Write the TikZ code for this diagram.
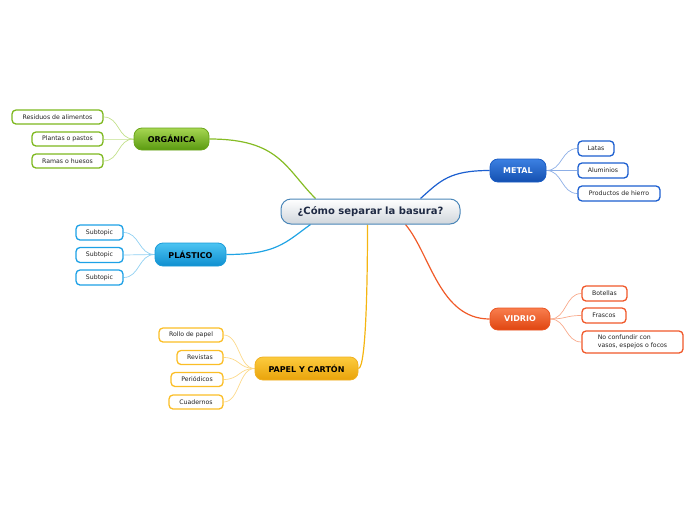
\documentclass[tikz,border=0pt]{standalone}
\usepackage{fontspec}
\setmainfont{DejaVu Sans}
\usetikzlibrary{backgrounds,calc}
\definecolor{gline}{HTML}{86BC25}
\definecolor{gsub}{HTML}{7DB81E}
\definecolor{gthin}{HTML}{C2E08A}
\definecolor{bline}{HTML}{1FA3E4}
\definecolor{bsub}{HTML}{1DA1E6}
\definecolor{bthin}{HTML}{8FD0F2}
\definecolor{yline}{HTML}{F5B511}
\definecolor{ysub}{HTML}{FBBE26}
\definecolor{ythin}{HTML}{FCD98A}
\definecolor{mline}{HTML}{1C5FD0}
\definecolor{msub}{HTML}{1C5FD0}
\definecolor{mthin}{HTML}{8CAEE6}
\definecolor{vline}{HTML}{F05A28}
\definecolor{vsub}{HTML}{F0582A}
\definecolor{vthin}{HTML}{F8AA8C}
\definecolor{ctext}{HTML}{1F2A44}
\definecolor{subtext}{HTML}{222222}
\definecolor{cborder}{HTML}{4A86B8}
\definecolor{cbottom}{HTML}{D0D6DC}
\definecolor{gdraw}{HTML}{6AA51A}
\definecolor{gtop}{HTML}{A6D652}
\definecolor{gbot}{HTML}{5A9A10}
\definecolor{bdraw}{HTML}{1A9AD8}
\definecolor{btop}{HTML}{4CC4F2}
\definecolor{bbot}{HTML}{0F8FD0}
\definecolor{ydraw}{HTML}{F0B020}
\definecolor{ytop}{HTML}{FCCB3E}
\definecolor{ybot}{HTML}{E9A30A}
\definecolor{mdraw}{HTML}{1A5CC4}
\definecolor{mtop}{HTML}{3C80E2}
\definecolor{mbot}{HTML}{1450B0}
\definecolor{vdraw}{HTML}{EA5522}
\definecolor{vtop}{HTML}{F87E4E}
\definecolor{vbot}{HTML}{E04510}
\begin{document}
\begin{tikzpicture}[x=1pt,y=-1pt,
  centerbox/.style={draw=cborder, line width=1pt, rounded corners=10pt,
    top color=white, bottom color=cbottom, minimum width=179pt, minimum height=25pt,
    inner sep=0pt, font=\fontsize{10}{12}\selectfont\bfseries, text=ctext},
  mainbox/.style={line width=0.8pt, rounded corners=8pt, minimum height=23pt,
    inner sep=0pt, font=\fontsize{8}{10}\selectfont\bfseries},
  subbox/.style={draw=#1, line width=1.3pt, fill=white, rounded corners=4pt,
    minimum height=14pt, inner sep=0pt, font=\fontsize{6.2}{7.5}\selectfont, text=subtext},
  branch/.style={draw=#1, line width=1.2pt},
  twig/.style={draw=#1, line width=0.7pt}
]
\useasboundingbox (0,0) rectangle (696,520);
% center
\node[centerbox] (c) at (370.5,211.5) {¿Cómo separar la basura?};
% main topics
\node[mainbox, draw=gdraw, top color=gtop, bottom color=gbot, minimum width=75pt, minimum height=22pt, text=black] (org) at (171.5,139) {ORGÁNICA};
\node[mainbox, draw=bdraw, top color=btop, bottom color=bbot, minimum width=71pt, text=black] (pla) at (190.5,254.5) {PLÁSTICO};
\node[mainbox, draw=ydraw, top color=ytop, bottom color=ybot, minimum width=103pt, text=black] (pap) at (306.5,368.5) {PAPEL Y CARTÓN};
\node[mainbox, draw=mdraw, top color=mtop, bottom color=mbot, minimum width=56pt, text=white] (met) at (518,170.5) {METAL};
\node[mainbox, draw=vdraw, top color=vtop, bottom color=vbot, minimum width=60pt, minimum height=22pt, text=white] (vid) at (520,319) {VIDRIO};
% subtopics
\node[subbox=gsub, minimum width=91pt] (o1) at (57.5,117) {Residuos de alimentos};
\node[subbox=gsub, minimum width=71pt] (o2) at (67.5,139) {Plantas o pastos};
\node[subbox=gsub, minimum width=71pt] (o3) at (67.5,161) {Ramas o huesos};
\node[subbox=bsub, minimum width=47pt, minimum height=15pt] (p1) at (99.5,232.5) {Subtopic};
\node[subbox=bsub, minimum width=47pt, minimum height=15pt] (p2) at (99.5,255) {Subtopic};
\node[subbox=bsub, minimum width=47pt, minimum height=15pt] (p3) at (99.5,277.5) {Subtopic};
\node[subbox=ysub, minimum width=64pt] (y1) at (191,335) {Rollo de papel};
\node[subbox=ysub, minimum width=46pt] (y2) at (200,357.5) {Revistas};
\node[subbox=ysub, minimum width=52pt] (y3) at (197,379.5) {Periódicos};
\node[subbox=ysub, minimum width=54pt] (y4) at (196,402) {Cuadernos};
\node[subbox=msub, minimum width=36pt, minimum height=15pt] (m1) at (596,148.5) {Latas};
\node[subbox=msub, minimum width=50pt, minimum height=15pt] (m2) at (603,170.5) {Aluminios};
\node[subbox=msub, minimum width=82pt, minimum height=15pt] (m3) at (619,193.5) {Productos de hierro};
\node[subbox=vsub, minimum width=45pt, minimum height=15pt] (v1) at (604.5,293.5) {Botellas};
\node[subbox=vsub, minimum width=44pt, minimum height=15pt] (v2) at (604,315.5) {Frascos};
\node[subbox=vsub, minimum width=101pt, minimum height=22pt, align=left] (v3) at (632.5,342) {No confundir con\\vasos, espejos o focos};
\begin{pgfonlayer}{background}
% branches
\draw[branch=gline] (org.east) .. controls +(70,0) and +(-30,-30) .. ($(c.north)+(-55,0)$);
\draw[branch=bline] (pla.east) .. controls +(50,0) and +(-25,18) .. ($(c.south)+(-60,0)$);
\draw[branch=yline] (pap.east) .. controls +(8,0) and +(0,50) .. ($(c.south)+(-3,0)$);
\draw[branch=mline] ($(c.north)+(50,0)$) .. controls +(20,-18) and +(-40,0) .. (met.west);
\draw[branch=vline] ($(c.south)+(35,0)$) .. controls +(25,30) and +(-50,0) .. (vid.west);
% twigs
\foreach \s in {o1,o2,o3}{\draw[twig=gthin] (org.west) .. controls +(-16,0) and +(16,0) .. (\s.east);}
\foreach \s in {p1,p2,p3}{\draw[twig=bthin] (pla.west) .. controls +(-16,0) and +(16,0) .. (\s.east);}
\foreach \s in {y1,y2,y3,y4}{\draw[twig=ythin] (pap.west) .. controls +(-16,0) and +(16,0) .. (\s.east);}
\foreach \s in {m1,m2,m3}{\draw[twig=mthin] (met.east) .. controls +(16,0) and +(-16,0) .. (\s.west);}
\foreach \s in {v1,v2,v3}{\draw[twig=vthin] (vid.east) .. controls +(16,0) and +(-16,0) .. (\s.west);}
\end{pgfonlayer}
\end{tikzpicture}
\end{document}
